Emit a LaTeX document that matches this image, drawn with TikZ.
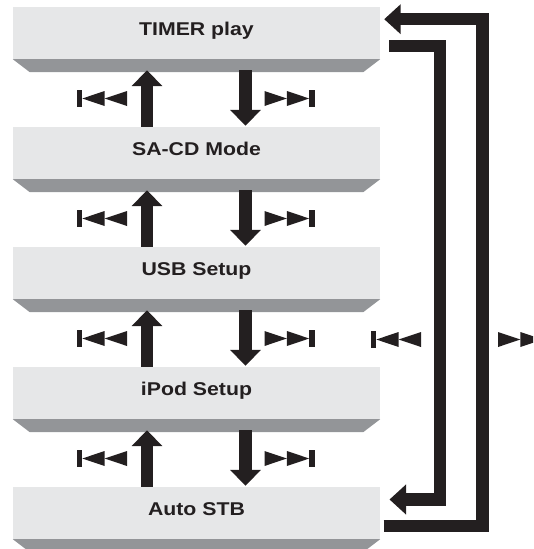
\documentclass[tikz,border=0pt]{standalone}
\usepackage{fontspec}
\newfontfamily\boxfont[FakeStretch=1.15]{Liberation Sans}
\usetikzlibrary{arrows.meta,calc}
\definecolor{boxc}{HTML}{E6E7E8}
\definecolor{shadc}{HTML}{939598}
\definecolor{ink}{HTML}{231F20}
\tikzset{
  menubox/.style={fill=boxc, minimum width=367pt, minimum height=52pt, inner sep=0pt,
    text height=13.5pt, text depth=8.5pt, text=ink,
    font=\boxfont\bfseries\fontsize{18.5}{20}\selectfont},
  fat/.style={draw=ink, line width=12.3pt, -{Triangle[width=30pt,length=16pt]}},
  loopline/.style={draw=ink, line width=12.3pt, line join=miter, -{Triangle[width=29pt,length=16.5pt]}},
  previcon/.pic={
    \fill[ink] (-25,-8.5) rectangle (-19.7,8.5);
    \fill[ink] (-19.7,0) -- (2.6,-7.5) -- (2.6,7.5) -- cycle;
    \fill[ink] (2.6,0) -- (25,-7.5) -- (25,7.5) -- cycle;
  },
  nexticon/.pic={
    \fill[ink] (25,-8.5) rectangle (19.7,8.5);
    \fill[ink] (19.7,0) -- (-2.6,-7.5) -- (-2.6,7.5) -- cycle;
    \fill[ink] (-2.6,0) -- (-25,-7.5) -- (-25,7.5) -- cycle;
  }
}
\begin{document}
\begin{tikzpicture}[x=1pt,y=-1pt]
\clip (0,0) rectangle (533,549);
\node[menubox] (b0) at (196.5,33) {TIMER play};
\node[menubox] (b1) at (196.5,153) {SA-CD Mode};
\node[menubox] (b2) at (196.5,273) {USB Setup};
\node[menubox] (b3) at (196.5,393) {iPod Setup};
\node[menubox] (b4) at (196.5,513) {Auto STB};
\foreach \b in {b0,b1,b2,b3,b4}{
  \fill[shadc] (\b.south west) -- (\b.south east) -- ++(-17,13) -- ($(\b.south west)+(17,13)$) -- cycle;
}
\foreach \i/\j in {0/1,1/2,2/3,3/4}{
  \draw[fat] ([xshift=-49.5pt]b\j.north) -- ([xshift=-49.5pt,yshift=-11pt]b\i.south);
  \draw[fat] ([xshift=49pt,yshift=-11pt]b\i.south) -- ([xshift=49pt,yshift=1pt]b\j.north);
  \pic at ($(b\i.south)+(-94.5,39.3)$) {previcon};
  \pic at ($(b\i.south)+(93,39.3)$) {nexticon};
}
% outer loop: Auto STB -> TIMER play
\draw[loopline] ($(b4.east)+(3.3,13.3)$) -| ($(b0.east)+(102.3,-13.8)$) -- ($(b0.east)+(4,-13.8)$);
% inner loop: TIMER play -> Auto STB
\draw[loopline] ($(b0.east)+(9,13.2)$) -| ($(b4.east)+(59.5,-13.5)$) -- ($(b4.east)+(9.3,-13.5)$);
\coordinate (pl) at (396,339.5);
\coordinate (nl) at (523,339.5);
\pic at (pl) {previcon};
\pic at (nl) {nexticon};
\end{tikzpicture}
\end{document}
